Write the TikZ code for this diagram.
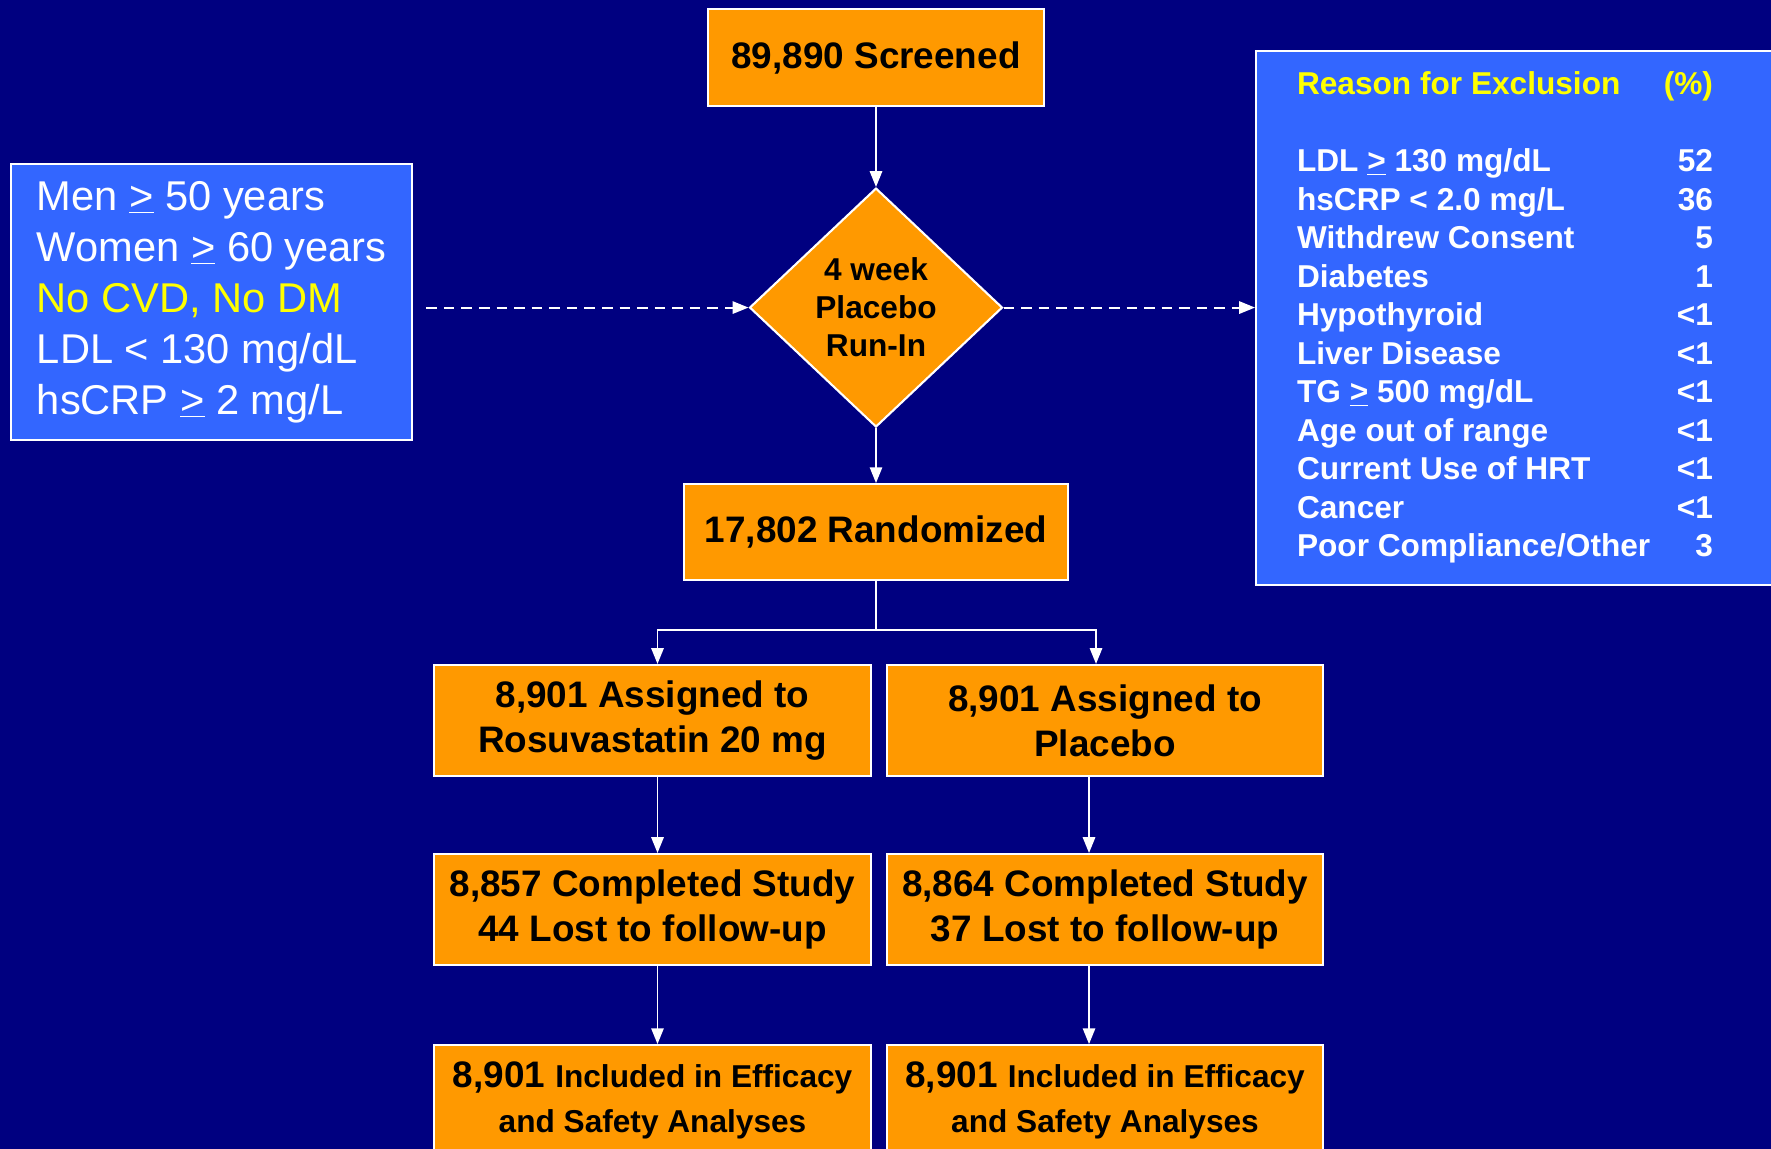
\documentclass[tikz,border=0pt]{standalone}
\usepackage{fontspec}
\setmainfont{Liberation Sans}
\usetikzlibrary{positioning,arrows.meta,calc,shapes.geometric}
\definecolor{cNavy}{HTML}{000080}
\definecolor{cOrange}{HTML}{FF9900}
\definecolor{cBlue}{HTML}{3366FF}
\definecolor{cYellow}{HTML}{FFFF00}
\newcommand{\ulgt}{\underline{>}}

\begin{document}
\begin{tikzpicture}[x=0.02cm,y=-0.02cm,
    every node/.style={inner sep=0pt,align=center},
    flowbox/.style={draw=white,line width=1.2pt,fill=cOrange,text=black,
                    minimum width=8.74cm,minimum height=2.22cm,
                    font=\fontsize{21}{25.6}\selectfont\bfseries},
    infobox/.style={draw=white,line width=1.2pt,fill=cBlue,text=white},
    flow/.style={draw=white,line width=1.1pt,-{Triangle[length=9pt,width=7pt]}},
    dashflow/.style={flow,dash pattern=on 6pt off 4pt}]
  \useasboundingbox (0,0) rectangle (1771,1149);
  \clip (0,0) rectangle (1771,1149);
  \fill[cNavy] (0,0) rectangle (1771,1149);

  % main chain
  \node[flowbox,minimum width=6.72cm,minimum height=1.94cm] (screened) at (876,57.5) {89,890 Screened};
  \node[flowbox,shape=diamond,minimum width=5.06cm,minimum height=4.78cm,
        font=\fontsize{18}{21.6}\selectfont\bfseries,below=1.6cm of screened] (runin) {4 week\\Placebo\\Run-In};
  \node[flowbox,minimum width=7.68cm,minimum height=1.92cm,below=1.1cm of runin] (random) {17,802 Randomized};

  % two arms
  \node[flowbox] (assignL) at (652.5,720.5) {8,901 Assigned to\\Rosuvastatin 20 mg};
  \node[flowbox,minimum width=8.72cm,right=0.28cm of assignL] (assignR) {8,901 Assigned to\\Placebo};
  \node[flowbox,below=1.52cm of assignL] (doneL) {8,857 Completed Study\\44 Lost to follow-up};
  \node[flowbox,minimum width=8.72cm,below=1.52cm of assignR] (doneR) {8,864 Completed Study\\37 Lost to follow-up};
  \node[flowbox,below=1.56cm of doneL] (inclL) {8,901 {\fontsize{18}{22.2}\selectfont Included in Efficacy}\\{\fontsize{18}{22.2}\selectfont and Safety Analyses}};
  \node[flowbox,minimum width=8.72cm,below=1.56cm of doneR] (inclR) {8,901 {\fontsize{18}{22.2}\selectfont Included in Efficacy}\\{\fontsize{18}{22.2}\selectfont and Safety Analyses}};

  % side panels
  \node[infobox,minimum width=8.02cm,minimum height=5.52cm,align=left,
        font=\fontsize{23.7}{29}\selectfont] (crit) at (211.8,302) {%
    Men \ulgt{} 50 years\\
    Women \ulgt{} 60 years\\
    \textcolor{cYellow}{No CVD, No DM}\\
    LDL < 130 mg/dL\\
    hsCRP \ulgt{} 2 mg/L};
  \node[infobox,minimum width=10.5cm,minimum height=10.68cm,inner xsep=0.82cm,anchor=north west,
        font=\fontsize{18}{21.9}\selectfont\bfseries] (excl) at (1255,50) {%
    \begin{tabular*}{8.32cm}{@{}l@{\extracolsep{\fill}}r@{}}
      \textcolor{cYellow}{Reason for Exclusion} & \textcolor{cYellow}{(\%)}\\
      \\
      LDL \ulgt{} 130 mg/dL & 52\\
      hsCRP < 2.0 mg/L & 36\\
      Withdrew Consent & 5\\
      Diabetes & 1\\
      Hypothyroid & <1\\
      Liver Disease & <1\\
      TG \ulgt{} 500 mg/dL & <1\\
      Age out of range & <1\\
      Current Use of HRT & <1\\
      Cancer & <1\\
      Poor Compliance/Other & 3\\
    \end{tabular*}\hspace{0.54cm}};

  % connectors
  \draw[flow] (screened) -- (runin);
  \draw[flow] (runin) -- (random);
  \coordinate (split) at ($(random.south)+(0,49)$);
  \draw[white,line width=1.1pt] (random.south) -- (split);
  \draw[flow] (split) -| ([xshift=0.1cm]assignL.north);
  \draw[flow] (split) -| ([xshift=-0.18cm]assignR.north);
  \draw[flow] ([xshift=0.1cm]assignL.south) -- ([xshift=0.1cm]doneL.north);
  \draw[flow] ([xshift=-0.32cm]assignR.south) -- ([xshift=-0.32cm]doneR.north);
  \draw[flow] ([xshift=0.1cm]doneL.south) -- ([xshift=0.1cm]inclL.north);
  \draw[flow] ([xshift=-0.32cm]doneR.south) -- ([xshift=-0.32cm]inclR.north);
  \draw[dashflow] ($(crit.east |- runin.west)+(13,0)$) -- (runin.west);
  \draw[dashflow] (runin.east) -- (runin.east -| excl.west);
\end{tikzpicture}
\end{document}
